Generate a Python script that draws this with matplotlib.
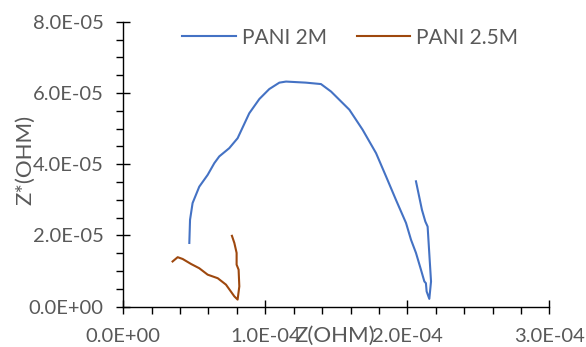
import numpy as np
import matplotlib.pyplot as plt
from matplotlib.ticker import MultipleLocator, FormatStrFormatter

plt.rcParams['font.family'] = ['Lato', 'DejaVu Sans']

# PANI 2M (Z, Z*)
x_2m = [0.465, 0.47, 0.488, 0.535, 0.594, 0.641, 0.676, 0.746, 0.805, 0.887, 0.958,
        1.028, 1.099, 1.146, 1.286, 1.392, 1.463, 1.592, 1.685, 1.780, 1.850, 1.920,
        1.991, 2.026, 2.061, 2.096, 2.120, 2.131, 2.136, 2.155, 2.167, 2.143, 2.127,
        2.103, 2.061]
y_2m = [1.79, 2.44, 2.91, 3.37, 3.70, 4.03, 4.22, 4.45, 4.73, 5.43, 5.83,
        6.11, 6.29, 6.32, 6.29, 6.25, 6.04, 5.53, 4.97, 4.31, 3.66, 3.00,
        2.35, 1.88, 1.51, 1.04, 0.71, 0.66, 0.43, 0.22, 0.71, 2.25, 2.39,
        2.72, 3.52]

# PANI 2.5M
x_25m = [0.347, 0.383, 0.418, 0.477, 0.535, 0.594, 0.665, 0.723, 0.782, 0.805,
         0.817, 0.812, 0.798, 0.798, 0.782, 0.765]
y_25m = [1.27, 1.39, 1.34, 1.20, 1.08, 0.90, 0.80, 0.62, 0.29, 0.20,
         0.57, 1.04, 1.18, 1.51, 1.79, 1.99]

x_2m = np.array(x_2m) * 1e-4
y_2m = np.array(y_2m) * 1e-5
x_25m = np.array(x_25m) * 1e-4
y_25m = np.array(y_25m) * 1e-5

gray = '#595959'

fig = plt.figure(figsize=(5.86, 3.47), dpi=100)
ax = fig.add_axes([0.2104, 0.1161, 0.727, 0.8213])

ax.plot(x_2m, y_2m, color='#4472C4', lw=1.5, label='PANI 2M')
ax.plot(x_25m, y_25m, color='#9E480E', lw=1.5, label='PANI 2.5M')

ax.set_xlim(0, 3e-4)
ax.set_ylim(0, 8e-5)
ax.xaxis.set_major_locator(MultipleLocator(1e-4))
ax.xaxis.set_minor_locator(MultipleLocator(2e-5))
ax.yaxis.set_major_locator(MultipleLocator(2e-5))
ax.yaxis.set_minor_locator(MultipleLocator(5e-6))
ax.xaxis.set_major_formatter(FormatStrFormatter('%.1E'))
ax.yaxis.set_major_formatter(FormatStrFormatter('%.1E'))

for s in ['top', 'right']:
    ax.spines[s].set_visible(False)
for s in ['left', 'bottom']:
    ax.spines[s].set_color('black')
    ax.spines[s].set_linewidth(1.0)

ax.tick_params(which='major', direction='inout', length=10, width=1.0,
               labelsize=14.5, labelcolor=gray)
ax.tick_params(which='minor', direction='out', length=5, width=1.0)
ax.tick_params(axis='x', which='major', pad=10)
ax.tick_params(axis='y', which='major', pad=9)

fig.text(0.571, 0.032, 'Z(OHM)', fontsize=16, color=gray, ha='center', va='center')
fig.text(0.043, 0.54, 'Z*(OHM)', fontsize=16, color=gray, ha='center', va='center',
         rotation=90)

leg = ax.legend(loc='upper center', bbox_to_anchor=(0.533, 1.045), ncol=2, frameon=False,
                fontsize=15, handlelength=2.55, columnspacing=1.45, handletextpad=0.3)
for t in leg.get_texts():
    t.set_color(gray)

fig.savefig('out.png', dpi=100)
